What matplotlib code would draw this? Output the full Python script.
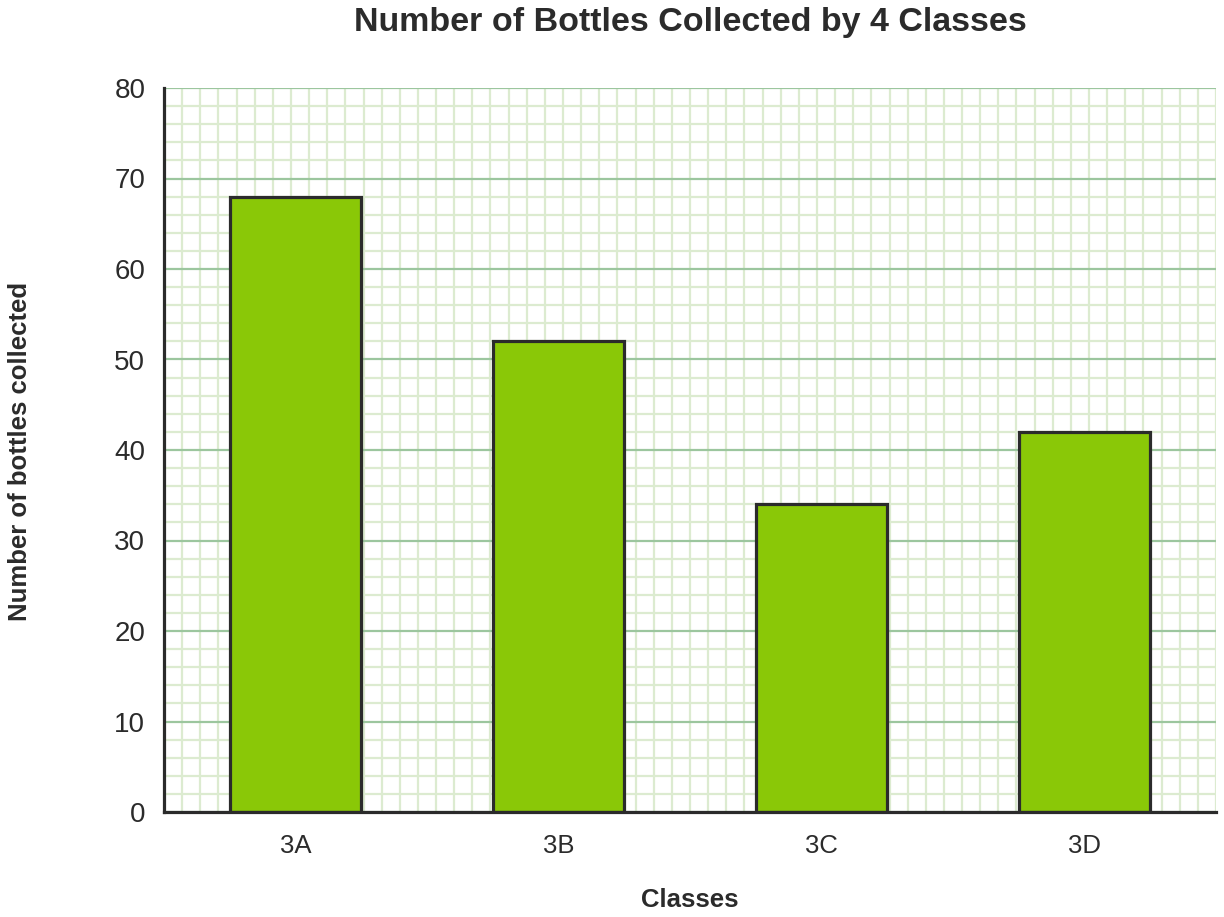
import numpy as np
import matplotlib
matplotlib.use("Agg")
from matplotlib import pyplot as plt
from matplotlib.ticker import MultipleLocator, FixedLocator

# DATA
classes = ["3A", "3B", "3C", "3D"]
bottles = [68, 52, 34, 42]

plt.rcParams["font.family"] = ["Liberation Sans", "DejaVu Sans"]

fig = plt.figure(figsize=(12.24, 9.17), dpi=100)
ax = fig.add_axes([164 / 1224, 1 - 812 / 917, (1216 - 164) / 1224, (812 - 88) / 917])

x = np.arange(len(classes))
ax.bar(x, bottles, width=0.5, color="#8ac807", edgecolor="#2b2b2b",
       linewidth=2.3, zorder=3)

ax.set_xlim(-0.5, 3.5)
ax.set_ylim(0, 80)

# GRID - square graph-paper cells
ax.yaxis.set_major_locator(MultipleLocator(10))
ax.yaxis.set_minor_locator(MultipleLocator(2))
ax.xaxis.set_minor_locator(FixedLocator(np.linspace(-0.5, 3.5, 59)))
ax.grid(which="minor", color="#dcebd0", linewidth=1.6, zorder=0)
ax.grid(which="major", axis="y", color="#9cc69e", linewidth=1.6, zorder=1)
ax.set_axisbelow(True)

ax.set_xticks(x)
ax.set_xticklabels(classes)
ax.tick_params(which="both", length=0)
ax.tick_params(axis="y", labelsize=20, pad=13.5, colors="#2b2b2b")
ax.tick_params(axis="x", labelsize=18.5, pad=16, colors="#2b2b2b")

for side in ["top", "right"]:
    ax.spines[side].set_visible(False)
for side in ["left", "bottom"]:
    ax.spines[side].set_color("#2b2b2b")
    ax.spines[side].set_linewidth(2.3)
    ax.spines[side].set_zorder(4)

# TEXT
fig.text(690 / 1224, 1 - 22 / 917, "Number of Bottles Collected by 4 Classes",
         fontsize=24.5, fontweight="bold", color="#2b2b2b", ha="center", va="center")
fig.text(20 / 1224, 1 - 451 / 917, "Number of bottles collected", rotation=90,
         fontsize=18.5, fontweight="bold", color="#2b2b2b", ha="center", va="center")
fig.text(690 / 1224, 1 - 900 / 917, "Classes",
         fontsize=18.5, fontweight="bold", color="#2b2b2b", ha="center", va="center")

fig.savefig("out.png", dpi=100)
